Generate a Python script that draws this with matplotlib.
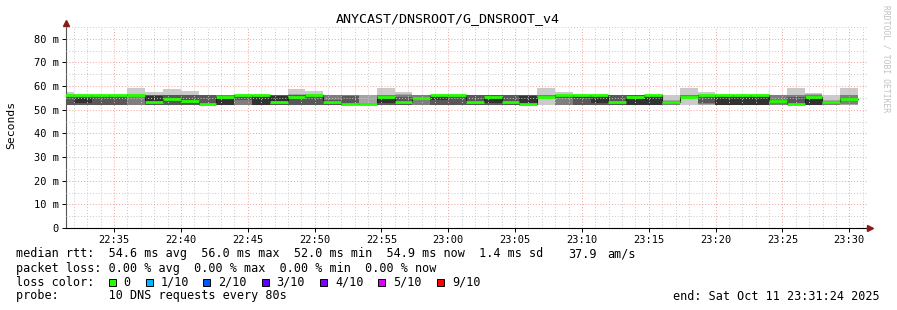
import numpy as np
import pandas as pd
import matplotlib
matplotlib.use('Agg')
import matplotlib.pyplot as plt
import matplotlib.dates as mdates
from matplotlib.ticker import MultipleLocator, FuncFormatter
from matplotlib.patches import Rectangle

# ---- data (values in ms) ----
t_start = pd.Timestamp('2025-10-11 22:31:24')
t_end = pd.Timestamp('2025-10-11 23:31:24')
first_step = pd.Timestamp('2025-10-11 22:30:39')
step_sec = 80

median = [56.2, 56.2, 56.2, 56.2, 56.2, 53.4, 54.6, 53.8, 52.4, 55.4,
          56.2, 56.2, 53.4, 55.4, 56.2, 53.4, 52.4, 52.4, 55.4, 53.4,
          55.0, 56.2, 56.2, 53.4, 55.4, 53.4, 52.4, 55.4, 56.2, 56.2,
          56.2, 53.3, 55.4, 56.2, 53.4, 55.4, 56.2, 56.2, 56.2, 56.2,
          53.8, 52.4, 55.4, 53.3, 54.7]

# 10 sorted ping rtts per step
pings = [
    [52.0, 52.0, 52.0, 52.0, 56.0, 56.2, 56.3, 56.4, 56.5, 57.6],
    [52.0, 52.0, 52.0, 52.0, 53.0, 55.1, 56.2, 56.3, 56.4, 56.4],
    [52.0, 52.0, 52.0, 52.0, 56.0, 56.2, 56.3, 56.3, 56.4, 56.4],
    [52.0, 52.0, 52.0, 52.0, 56.0, 56.2, 56.3, 56.3, 56.4, 56.4],
    [52.0, 52.0, 52.0, 55.2, 55.3, 55.3, 55.4, 56.3, 56.5, 59.4],
    [52.0, 52.0, 52.0, 52.0, 52.5, 56.0, 56.1, 56.2, 56.3, 57.6],
    [52.0, 52.0, 52.0, 52.0, 54.5, 54.7, 56.2, 56.3, 56.4, 58.8],
    [52.0, 52.0, 52.0, 52.0, 53.7, 53.9, 56.2, 56.3, 56.4, 58.0],
    [51.8, 52.0, 52.0, 52.0, 52.3, 52.5, 56.2, 56.3, 56.3, 56.3],
    [52.0, 52.0, 52.0, 52.0, 52.1, 55.5, 56.0, 56.2, 56.3, 56.3],
    [52.0, 52.0, 52.0, 54.0, 56.0, 56.2, 56.3, 56.3, 56.4, 56.4],
    [52.0, 52.0, 52.0, 52.0, 52.2, 56.0, 56.2, 56.3, 56.3, 56.4],
    [52.0, 52.0, 52.0, 52.0, 53.2, 56.0, 56.2, 56.3, 56.3, 56.4],
    [52.0, 52.0, 52.0, 52.0, 55.3, 55.5, 56.2, 56.4, 56.6, 58.8],
    [52.0, 52.0, 52.0, 52.0, 56.0, 56.2, 56.3, 56.4, 56.6, 58.0],
    [52.0, 52.0, 52.0, 52.0, 53.3, 53.5, 54.0, 56.3, 56.4, 56.4],
    [52.0, 52.0, 52.0, 52.0, 52.3, 52.5, 56.0, 56.2, 56.3, 56.3],
    [52.0, 52.0, 52.2, 52.3, 52.3, 52.5, 52.6, 52.7, 56.3, 56.4],
    [52.0, 52.0, 52.0, 52.0, 53.0, 55.5, 56.0, 56.2, 56.4, 59.4],
    [52.0, 52.0, 52.0, 52.0, 53.3, 53.5, 55.5, 56.2, 56.5, 57.6],
    [52.0, 52.0, 52.0, 54.8, 55.0, 55.1, 55.2, 56.3, 56.3, 56.4],
    [52.0, 52.0, 52.0, 52.0, 54.0, 56.0, 56.2, 56.3, 56.3, 56.4],
    [52.0, 52.0, 52.0, 52.0, 53.5, 53.6, 56.2, 56.3, 56.3, 56.4],
    [52.0, 52.0, 52.0, 52.0, 53.3, 53.5, 56.1, 56.2, 56.3, 56.4],
    [52.0, 52.0, 52.0, 52.0, 53.0, 55.5, 56.1, 56.2, 56.3, 56.4],
    [52.0, 52.0, 52.0, 52.0, 53.3, 53.5, 56.1, 56.2, 56.3, 56.4],
    [51.8, 52.0, 52.0, 52.0, 52.3, 56.0, 56.1, 56.2, 56.3, 56.4],
    [52.0, 55.0, 55.2, 55.3, 55.3, 55.5, 55.6, 56.2, 56.4, 59.4],
    [52.0, 52.0, 52.0, 55.0, 56.0, 56.2, 56.3, 56.3, 56.4, 57.6],
    [52.0, 52.0, 52.0, 52.0, 55.0, 56.0, 56.2, 56.3, 56.3, 56.4],
    [52.0, 52.0, 52.0, 52.0, 53.0, 56.0, 56.2, 56.3, 56.3, 56.4],
    [52.0, 52.0, 52.0, 52.0, 53.2, 53.4, 56.1, 56.2, 56.3, 56.4],
    [52.0, 52.0, 52.0, 52.0, 52.2, 55.5, 56.1, 56.2, 56.3, 56.4],
    [52.0, 52.0, 52.0, 52.0, 52.2, 56.0, 56.2, 56.3, 56.3, 56.4],
    [52.0, 52.0, 52.2, 52.4, 53.3, 53.5, 53.6, 53.8, 54.0, 56.4],
    [52.0, 54.8, 55.0, 55.2, 55.3, 55.5, 55.6, 56.2, 56.4, 59.4],
    [52.0, 52.0, 52.5, 53.0, 56.0, 56.2, 56.3, 56.3, 56.4, 57.4],
    [52.0, 52.0, 52.0, 52.0, 52.1, 56.0, 56.2, 56.3, 56.3, 56.4],
    [52.0, 52.0, 52.0, 52.0, 52.1, 56.0, 56.2, 56.3, 56.3, 56.4],
    [52.0, 52.0, 52.0, 52.0, 52.1, 56.0, 56.2, 56.3, 56.3, 56.4],
    [52.0, 52.0, 52.0, 53.0, 53.6, 54.0, 54.2, 56.2, 56.3, 56.4],
    [52.0, 52.0, 52.0, 52.0, 52.3, 52.5, 55.5, 56.2, 56.4, 59.4],
    [52.0, 52.0, 52.0, 52.0, 52.2, 55.5, 56.0, 56.2, 56.5, 57.2],
    [52.0, 52.0, 52.2, 52.4, 53.2, 53.4, 53.6, 53.8, 54.0, 56.4],
    [52.0, 52.0, 52.3, 54.5, 54.6, 54.8, 55.0, 56.2, 56.4, 59.4],
]

title = 'ANYCAST/DNSROOT/G_DNSROOT_v4'
legend_lines = [
    'median rtt:  54.6 ms avg  56.0 ms max  52.0 ms min  54.9 ms now  1.4 ms sd',
    'packet loss: 0.00 % avg  0.00 % max  0.00 % min  0.00 % now',
    'loss color:',
    'probe:       10 DNS requests every 80s',
]
am_value = '37.9'
am_unit = 'am/s'
loss_labels = ['0', '1/10', '2/10', '3/10', '4/10', '5/10', '9/10']
loss_colors = ['#26ff00', '#00b8ff', '#0059ff', '#5e00ff', '#7e00ff', '#dd00ff', '#ff0000']
end_text = 'end: Sat Oct 11 23:31:24 2025'

# ---- figure ----
W, H = 897, 310
fig = plt.figure(figsize=(W / 100, H / 100), dpi=100)
fig.patch.set_facecolor('white')
ax = fig.add_axes([66 / W, 82 / H, 802 / W, 201 / H])

n = len(median)
t = first_step + pd.to_timedelta(np.arange(n + 1) * step_sec, unit='s')
tn = mdates.date2num(t.to_pydatetime())

P = np.array(pings)
P = np.vstack([P, P[-1]])
shades = ['#cacaca', '#a4a4a4', '#7e7e7e', '#585858', '#323232']
for k in range(5):
    ax.fill_between(tn, P[:, k], P[:, 9 - k], step='post', color=shades[k], lw=0, zorder=1)

med = np.array(median + [median[-1]])
ax.step(tn, med, where='post', color='#202020', lw=0.8, zorder=3)
ax.hlines(median, tn[:-1], tn[1:], color='#26ff00', lw=2.0, zorder=4)

ax.set_xlim(mdates.date2num(t_start.to_pydatetime()), mdates.date2num(t_end.to_pydatetime()))
ax.set_ylim(0, 85)

ax.xaxis.set_major_locator(mdates.MinuteLocator(byminute=range(0, 60, 5)))
ax.xaxis.set_minor_locator(mdates.MinuteLocator())
ax.xaxis.set_major_formatter(mdates.DateFormatter('%H:%M'))
ax.yaxis.set_major_locator(MultipleLocator(10))
ax.yaxis.set_minor_locator(MultipleLocator(5))
ax.yaxis.set_major_formatter(FuncFormatter(lambda v, p: '0' if v == 0 else '%d m' % v))

ax.set_axisbelow(False)
ax.grid(which='major', color='#eea0a0', ls=(0, (1, 2)), lw=0.7)
ax.grid(which='minor', color='#c8c8c8', ls=(0, (1, 2)), lw=0.7)

for s in ['top', 'right']:
    ax.spines[s].set_visible(False)
ax.spines['left'].set_color('#555555')
ax.spines['bottom'].set_color('black')
ax.spines['left'].set_linewidth(0.8)
ax.spines['bottom'].set_linewidth(0.8)

mono = 'DejaVu Sans Mono'
ax.tick_params(which='major', length=3, width=0.7, pad=2, labelsize=7.5, colors='black')
ax.tick_params(which='minor', length=0)
for lab in ax.get_xticklabels() + ax.get_yticklabels():
    lab.set_family(mono)

# arrows at axis ends
ax.plot([0], [1.02], marker='^', color='#8b1a1a', ms=4, transform=ax.transAxes, clip_on=False, zorder=6)
ax.plot([1.003], [0], marker='>', color='#8b1a1a', ms=4, transform=ax.transAxes, clip_on=False, zorder=6)

# texts
fig.text(448 / W, 1 - 19 / H, title, ha='center', va='center', family=mono, fontsize=9.6)
fig.text(11 / W, 1 - 125 / H, 'Seconds', rotation=90, ha='center', va='center', family=mono, fontsize=8.2)
fig.text(886 / W, 1 - 5 / H, 'RRDTOOL / TOBI OETIKER', rotation=270, ha='center', va='top',
         family=mono, fontsize=5.8, color='#c0c0c0')

rows_y = [254, 268.5, 282, 296]
for txt, yy in zip(legend_lines, rows_y):
    fig.text(16 / W, 1 - yy / H, txt, ha='left', va='center', family=mono, fontsize=8.5)
fig.text(568 / W, 1 - 254 / H, am_value, ha='left', va='center', family=mono, fontsize=8.5)
fig.text(607 / W, 1 - 254 / H, am_unit, ha='left', va='center', family=mono, fontsize=8.5)

box_x = [108.5, 146, 203, 261.5, 320, 378, 437]
for bx, lab, col in zip(box_x, loss_labels, loss_colors):
    fig.patches.append(Rectangle((bx / W, 1 - 285.5 / H), 7 / W, 7 / H, transform=fig.transFigure,
                                 facecolor=col, edgecolor='black', lw=0.7, figure=fig))
    fig.text((bx + 15) / W, 1 - 282 / H, lab, ha='left', va='center', family=mono, fontsize=8.5)

fig.text(880 / W, 1 - 296 / H, end_text, ha='right', va='center', family=mono, fontsize=8.5)

fig.savefig('out.png', dpi=100, facecolor='white')
